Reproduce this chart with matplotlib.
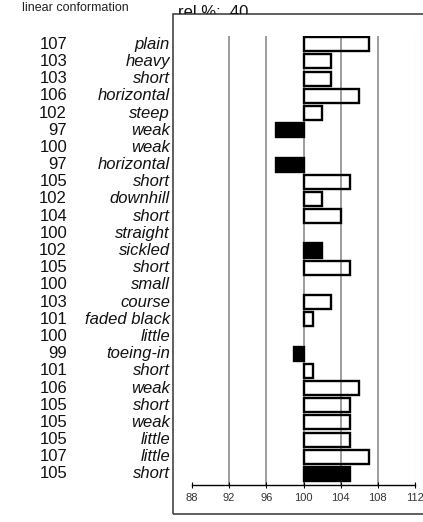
import matplotlib
matplotlib.use("Agg")
import matplotlib.pyplot as plt
import matplotlib.transforms as mtransforms
from matplotlib.patches import Rectangle

plt.rcParams['font.family'] = ['Liberation Sans', 'DejaVu Sans']

# data
values = [107, 103, 103, 106, 102, 97, 100, 97, 105, 102, 104, 100, 102,
          105, 100, 103, 101, 100, 99, 101, 106, 105, 105, 105, 107, 105]
traits = ["plain", "heavy", "short", "horizontal", "steep", "weak", "weak",
          "horizontal", "short", "downhill", "short", "straight", "sickled",
          "short", "small", "course", "faded black", "little", "toeing-in",
          "short", "weak", "short", "weak", "little", "little", "short"]
filled = [0, 0, 0, 0, 0, 1, 0, 1, 0, 0, 0, 0, 1,
          0, 0, 0, 0, 0, 1, 0, 0, 0, 0, 0, 0, 1]
ticks = [88, 92, 96, 100, 104, 108, 112]

W, H = 423, 522
fig = plt.figure(figsize=(W / 100, H / 100), dpi=100)

# outer frame (runs off the right edge like the original)
fig.patches.append(Rectangle((173 / W, 1 - 514 / H), 260 / W, 500 / H,
                             transform=fig.transFigure, fill=False,
                             edgecolor='#444444', lw=1.2))

ax = fig.add_axes([192 / W, 1 - 485 / H, 223 / W, 449 / H])
ax.set_xlim(88, 112)
ax.set_ylim(25.64, -0.48)
ax.patch.set_alpha(0)

for t in ticks[1:-1]:
    ax.axvline(t, color='#8c8c8c', lw=1.2, zorder=0)
ax.axvline(112, color='#e6e6e6', lw=1.0, zorder=0)

for i, (v, f) in enumerate(zip(values, filled)):
    if v == 100:
        continue
    ax.barh(i, v - 100, left=100, height=0.82,
            facecolor='black' if f else 'none', edgecolor='black', lw=1.7,
            zorder=2)

for s in ['top', 'right', 'left']:
    ax.spines[s].set_visible(False)
ax.spines['bottom'].set_linewidth(1.0)
ax.set_yticks([])
ax.set_xticks(ticks)
ax.tick_params(axis='x', direction='inout', length=4, width=0.8,
               labelsize=8, labelcolor='#333333', pad=4)

trans = mtransforms.blended_transform_factory(fig.transFigure, ax.transData)
for i, (v, name) in enumerate(zip(values, traits)):
    ax.text(67 / W, i, str(v), transform=trans, ha='right', va='center',
            fontsize=12, color='#111111')
    ax.text(170 / W, i, name, transform=trans, ha='right', va='center',
            fontsize=12, style='italic', color='#111111')

fig.text(22 / W, 1 - 8 / H, "linear conformation", ha='left', va='center',
         fontsize=9, color='#222222')
rel = fig.text(178 / W, 1 - 17 / H, "rel %:  40", ha='left', va='baseline',
               fontsize=12, color='#111111')
# the top line of the frame cuts the lower part of this label
clip = Rectangle((0, 1 - 14 / H), 1, 14 / H, transform=fig.transFigure)
rel.set_clip_path(clip)

fig.savefig("out.png", dpi=100)
